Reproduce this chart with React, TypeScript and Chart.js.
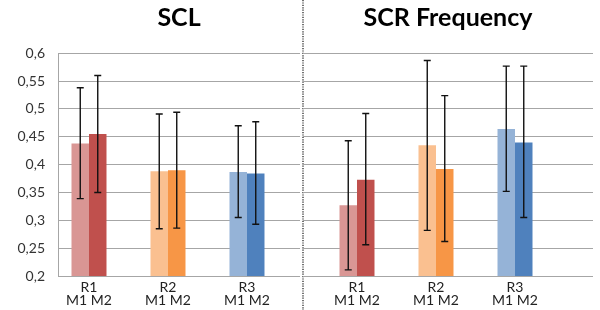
import React, { useEffect, useRef } from "react";
import { Chart, registerables } from "chart.js";
Chart.register(...registerables);

const categories = ["R1", "R2", "R3"];
const subLabel = "M1 M2";
const panelTitles = ["SCL", "SCR Frequency"];

// SCL panel
const sclM1 = [0.438, 0.388, 0.387];
const sclM2 = [0.455, 0.39, 0.384];
const sclM1Low = [0.339, 0.285, 0.305];
const sclM1High = [0.538, 0.491, 0.47];
const sclM2Low = [0.35, 0.286, 0.293];
const sclM2High = [0.56, 0.494, 0.477];

// SCR Frequency panel
const scrM1 = [0.327, 0.435, 0.464];
const scrM2 = [0.373, 0.392, 0.44];
const scrM1Low = [0.211, 0.282, 0.352];
const scrM1High = [0.443, 0.587, 0.577];
const scrM2Low = [0.256, 0.262, 0.305];
const scrM2High = [0.492, 0.524, 0.577];

const m1Colors = ["#d99694", "#fac090", "#95b3d7"];
const m2Colors = ["#c0504d", "#f79646", "#4f81bd"];

const FONT = "Lato, 'Open Sans', sans-serif";
const GRID = "#a6a6a6";

const errorBars = {
  id: "errorBars",
  afterDatasetsDraw(chart: any) {
    const ctx = chart.ctx;
    const ys = chart.scales.y;
    chart.data.datasets.forEach((ds: any, i: number) => {
      const meta = chart.getDatasetMeta(i);
      meta.data.forEach((bar: any, j: number) => {
        const x = bar.x;
        const top = ys.getPixelForValue(ds.errHigh[j]);
        const bot = ys.getPixelForValue(ds.errLow[j]);
        ctx.save();
        ctx.strokeStyle = "#111";
        ctx.lineWidth = 1.4;
        ctx.beginPath();
        ctx.moveTo(x, top);
        ctx.lineTo(x, bot);
        ctx.moveTo(x - 3.5, top);
        ctx.lineTo(x + 3.5, top);
        ctx.moveTo(x - 3.5, bot);
        ctx.lineTo(x + 3.5, bot);
        ctx.stroke();
        ctx.restore();
      });
    });
  },
};

const separator = {
  id: "separator",
  beforeDraw(chart: any, _args: any, opts: any) {
    if (!opts || !opts.show) return;
    const ctx = chart.ctx;
    ctx.save();
    ctx.strokeStyle = "#444";
    ctx.lineWidth = 1.5;
    ctx.setLineDash([1.2, 1.2]);
    ctx.beginPath();
    ctx.moveTo(1, 0);
    ctx.lineTo(1, chart.height);
    ctx.stroke();
    ctx.restore();
  },
};

type PanelProps = {
  title: string;
  m1: number[];
  m2: number[];
  m1Low: number[];
  m1High: number[];
  m2Low: number[];
  m2High: number[];
  xMin: number;
  xMax: number;
  yAxisWidth: number;
  showYLabels: boolean;
  padRight: number;
  width: number;
  left: number;
  showSeparator: boolean;
};

function Panel(p: PanelProps) {
  const ref = useRef<HTMLCanvasElement>(null);
  useEffect(() => {
    if (!ref.current) return;
    const chart = new Chart(ref.current, {
      type: "bar",
      data: {
        datasets: [
          {
            label: "M1",
            data: p.m1.map((v, i) => ({ x: i + 1, y: v })),
            backgroundColor: m1Colors,
            borderWidth: 0,
            errLow: p.m1Low,
            errHigh: p.m1High,
          } as any,
          {
            label: "M2",
            data: p.m2.map((v, i) => ({ x: i + 1, y: v })),
            backgroundColor: m2Colors,
            borderWidth: 0,
            errLow: p.m2Low,
            errHigh: p.m2High,
          } as any,
        ],
      },
      options: {
        animation: false,
        responsive: false,
        maintainAspectRatio: false,
        categoryPercentage: 0.443,
        barPercentage: 1,
        layout: { padding: { left: 0, right: p.padRight, top: 0, bottom: 0 } },
        plugins: {
          legend: { display: false },
          tooltip: { enabled: false },
          title: {
            display: true,
            text: p.title,
            fullSize: false,
            color: "#000",
            font: { family: FONT, size: 25, weight: "bold", lineHeight: 1.2 },
            padding: { top: 3, bottom: 20.3 },
          },
          separator: { show: p.showSeparator },
        } as any,
        scales: {
          x: {
            type: "linear",
            min: p.xMin,
            max: p.xMax,
            offset: false,
            grid: { display: false },
            border: { display: false },
            afterBuildTicks: (s: any) => {
              s.ticks = categories.map((_, i) => ({ value: i + 1 }));
            },
            afterFit: (s: any) => {
              s.height = 34;
            },
            ticks: {
              autoSkip: false,
              maxRotation: 0,
              padding: -3.5,
              color: "#222",
              font: { family: FONT, size: 14, lineHeight: 0.93 },
              callback: (v: any) => [categories[Math.round(v) - 1], subLabel],
            },
          } as any,
          y: {
            min: 0.2,
            max: 0.6,
            grid: { color: GRID, lineWidth: 1, drawTicks: false },
            border: { display: p.showYLabels, color: GRID },
            afterFit: (s: any) => {
              s.width = p.yAxisWidth;
            },
            ticks: {
              display: p.showYLabels,
              stepSize: 0.05,
              padding: 13,
              color: "#333",
              font: { family: FONT, size: 14 },
              callback: (v: any) =>
                Number(v).toFixed(2).replace(/0$/, "").replace(".", ","),
            },
          } as any,
        },
      },
      plugins: [errorBars, separator],
    });
    return () => chart.destroy();
  }, []);
  return (
    <canvas
      ref={ref}
      width={p.width}
      height={310}
      style={{ position: "absolute", left: p.left, top: 0, width: p.width, height: 310 }}
    />
  );
}

export default function App() {
  return (
    <div
      style={{
        position: "fixed",
        left: 0,
        top: 0,
        width: 600,
        height: 310,
        background: "#fff",
        overflow: "hidden",
      }}
    >
      <Panel
        title={panelTitles[0]}
        m1={sclM1}
        m2={sclM2}
        m1Low={sclM1Low}
        m1High={sclM1High}
        m2Low={sclM2Low}
        m2High={sclM2High}
        xMin={0.6076}
        xMax={3.671}
        yAxisWidth={58}
        showYLabels={true}
        padRight={2}
        width={302}
        left={0}
        showSeparator={false}
      />
      <Panel
        title={panelTitles[1]}
        m1={scrM1}
        m2={scrM2}
        m1Low={scrM1Low}
        m1High={scrM1High}
        m2Low={scrM2Low}
        m2High={scrM2High}
        xMin={0.3165}
        xMax={3.9873}
        yAxisWidth={1}
        showYLabels={false}
        padRight={7}
        width={298}
        left={302}
        showSeparator={true}
      />
    </div>
  );
}
